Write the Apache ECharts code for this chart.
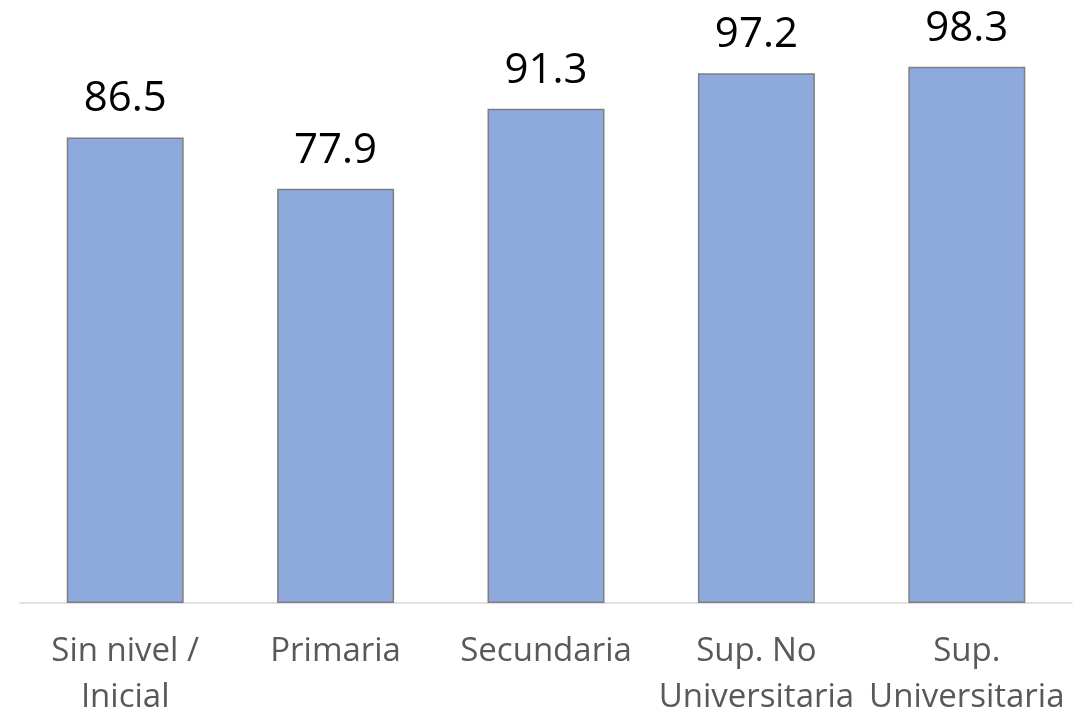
<!DOCTYPE html>
<html>
<head>
<meta charset="utf-8">
<script src="https://cdn.jsdelivr.net/npm/echarts@6/dist/echarts.min.js"></script>
<style>
html,body{margin:0;padding:0;background:#fff;}
#chart{width:1084px;height:712px;}
</style>
</head>
<body>
<div id="chart"></div>
<script>
const categories = ['Sin nivel /\nInicial', 'Primaria', 'Secundaria', 'Sup. No\nUniversitaria', 'Sup.\nUniversitaria'];
const values = [86.5, 77.9, 91.3, 97.2, 98.3];

const chart = echarts.init(document.getElementById('chart'));
chart.setOption({
  backgroundColor: '#ffffff',
  animation: false,
  grid: { left: 20, right: 12, top: 56.6, bottom: 109.7, containLabel: false, outerBoundsMode: 'none' },
  xAxis: {
    type: 'category',
    data: categories,
    axisLine: { show: true, lineStyle: { color: '#d9d9d9', width: 1.5 } },
    axisTick: { show: false },
    axisLabel: {
      interval: 0,
      color: '#595959',
      fontFamily: 'Open Sans',
      fontSize: 33,
      lineHeight: 46,
      margin: 26
    }
  },
  yAxis: {
    type: 'value',
    min: 8.8,
    max: 100,
    show: false,
    splitLine: { show: false }
  },
  series: [{
    type: 'bar',
    data: values,
    barCategoryGap: '44.4%',
    itemStyle: { color: '#8eaadc', borderColor: '#7f7f7f', borderWidth: 1.5 },
    label: {
      show: true,
      position: 'top',
      distance: 17,
      color: '#000000',
      fontFamily: 'Open Sans',
      fontSize: 42,
      lineHeight: 42,
      formatter: p => p.value.toFixed(1)
    }
  }]
});
</script>
</body>
</html>
